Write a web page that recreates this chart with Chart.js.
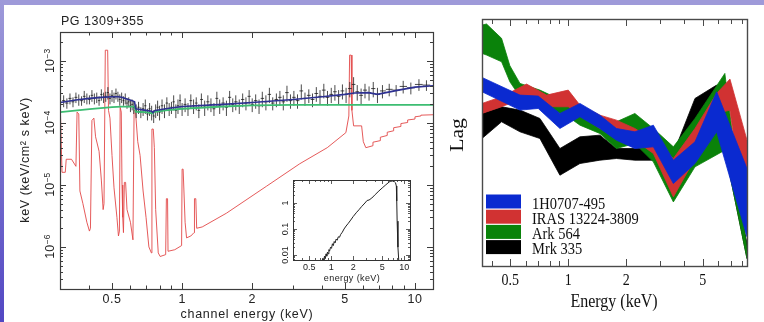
<!DOCTYPE html>
<html>
<head>
<meta charset="utf-8">
<script src="https://cdn.jsdelivr.net/npm/chart.js@4.4.1/dist/chart.umd.min.js"></script>
<style>
html, body { margin: 0; padding: 0; background: #fff; }
#wrap { position: relative; width: 764px; height: 322px; overflow: hidden; background: #fff; }
#topband { position: absolute; left: 0; top: 0; width: 764px; height: 5px; background: #9e9ad9; }
#leftband { position: absolute; left: 0; top: 0; width: 4px; height: 322px; background: linear-gradient(#9e9ad9, #5247c3); }
canvas { position: absolute; left: 0; top: 0; }
</style>
</head>
<body>
<div id="wrap">
  <div id="topband"></div>
  <div id="leftband"></div>
  <canvas id="spec" width="764" height="322"></canvas>
  <canvas id="inset" width="764" height="322"></canvas>
  <canvas id="lags" width="764" height="322"></canvas>
</div>
<script>
// ---------- left panel: PG 1309+355 spectrum ----------
// black data bins (keV), flux and error in units of 1e-4 keV/cm2/s/keV
const specEnergy = [
  0.31,0.32,0.33,0.34,0.35,0.36,0.37,0.38,0.39,0.40,0.41,0.42,0.43,0.44,0.45,0.46,0.47,0.48,0.49,0.50,0.51,0.52,0.53,0.54,0.55,0.56,0.57,0.58,0.59,0.60,0.61,0.62,
  0.635,0.65,0.665,0.68,0.695,0.71,0.725,0.74,0.755,0.77,0.785,0.80,0.82,0.84,0.86,0.88,0.90,0.92,0.94,0.96,0.98,1.00,
  1.03,1.06,1.09,1.12,1.15,1.18,1.21,1.25,1.29,1.33,1.37,1.41,1.45,1.50,1.55,1.60,1.65,1.70,1.76,1.82,1.88,1.94,2.00,2.07,2.14,2.21,2.29,2.37,2.45,2.54,2.63,2.72,2.82,2.92,
  3.02,3.13,3.25,3.37,3.50,3.63,3.77,3.91,4.06,4.21,4.37,4.53,4.70,4.88,5.06,5.25,5.45,5.65,5.87,6.10,6.35,6.62,6.90,
  7.25,7.75,8.3,8.9,9.6,10.4,11.2
];
const specFlux = [
  2.3,2.1,2.5,2.2,2.6,2.4,2.3,2.7,2.5,2.4,2.8,2.5,2.6,2.3,2.9,2.6,2.7,3.1,2.5,2.8,2.6,3.0,2.7,2.4,2.6,2.3,2.5,2.1,2.2,1.9,2.0,1.8,
  1.6,1.8,1.5,1.7,1.9,1.4,1.7,1.5,1.3,1.6,1.8,1.5,1.9,1.6,2.1,1.7,1.8,2.2,1.6,1.9,2.3,1.7,
  2.0,1.7,2.3,1.9,2.1,1.6,2.4,1.8,2.2,2.0,1.7,2.5,1.9,2.1,1.8,2.6,2.0,2.2,1.9,2.4,2.1,2.7,2.0,2.3,1.9,2.5,2.2,2.9,2.1,2.4,2.6,2.2,3.1,2.3,
  2.6,2.3,3.3,2.5,2.8,2.4,3.0,2.7,3.4,2.6,2.9,3.2,2.7,3.3,2.9,3.6,4.2,3.2,2.8,3.4,3.1,3.6,2.9,
  3.3,3.5,3.4,3.9,3.7,4.2,4.1
];
const specErr = [
  0.5,0.4,0.5,0.4,0.5,0.5,0.4,0.6,0.5,0.4,0.6,0.5,0.5,0.4,0.6,0.5,0.5,0.7,0.5,0.6,0.5,0.6,0.5,0.5,0.5,0.4,0.5,0.4,0.4,0.4,0.4,0.4,
  0.4,0.4,0.3,0.4,0.5,0.3,0.4,0.4,0.3,0.4,0.5,0.4,0.5,0.4,0.5,0.4,0.4,0.6,0.4,0.5,0.6,0.4,
  0.5,0.4,0.6,0.5,0.5,0.4,0.6,0.5,0.6,0.5,0.4,0.7,0.5,0.5,0.5,0.7,0.5,0.6,0.5,0.6,0.5,0.7,0.5,0.6,0.5,0.7,0.6,0.8,0.5,0.6,0.7,0.6,0.9,0.6,
  0.7,0.6,0.9,0.6,0.7,0.6,0.8,0.7,0.9,0.7,0.8,0.9,0.7,0.9,0.8,1.0,1.3,0.9,0.8,0.9,0.8,1.0,0.8,
  0.8,0.8,0.7,0.9,0.8,0.9,0.8
];
// blue total model (1e-4 units)
const modelEnergy = [0.30,0.35,0.40,0.45,0.50,0.53,0.55,0.58,0.61,0.625,0.632,0.70,0.74,0.75,0.76,0.85,1.0,1.5,2.0,3.0,4.0,5.0,5.5,6.3,6.9,7.5,8.5,10.0,11.95];
const modelFlux   = [2.15,2.35,2.5,2.6,2.65,2.65,2.6,2.45,2.3,2.2,1.7,1.6,1.55,1.48,1.58,1.7,1.85,2.0,2.15,2.4,2.65,2.9,3.05,3.1,2.9,3.1,3.4,3.8,4.0];
// green power law (1e-4 units)
const contEnergy = [0.30,0.40,0.50,0.55,0.625,0.632,0.70,0.745,0.752,0.85,1.0,1.5,2.0,3.0,11.95];
const contFlux   = [1.5,1.68,1.8,1.84,1.84,1.52,1.5,1.43,1.5,1.6,1.7,1.85,1.93,1.97,1.97];
// red line/absorption component [keV, flux]
const lineModel = [
  [0.300,1.7e-4],[0.305,1.6e-5],[0.315,1.6e-5],[0.318,2.6e-5],[0.335,2.6e-5],[0.350,2.0e-5],[0.354,1.5e-4],[0.360,1.4e-4],
  [0.364,8e-6],[0.375,5e-6],[0.390,2.5e-6],[0.400,1.8e-6],[0.404,2.0e-6],[0.410,1.1e-4],[0.418,1.2e-4],[0.425,6e-5],
  [0.440,3.5e-5],[0.450,1.2e-5],[0.458,4e-6],[0.462,5e-6],[0.468,1.5e-3],[0.479,1.5e-3],[0.483,1.6e-4],[0.490,1.2e-4],
  [0.500,3e-5],[0.510,9e-6],[0.525,3e-6],[0.533,1.5e-6],[0.538,1.8e-6],[0.542,1.8e-4],[0.548,1.5e-4],[0.552,1.0e-5],
  [0.556,3e-6],[0.560,1.7e-6],[0.565,1.1e-5],[0.572,1.1e-5],[0.580,4e-6],[0.600,2.5e-6],[0.615,1.3e-6],[0.622,1.6e-4],
  [0.630,1.6e-4],[0.645,5e-5],[0.660,3e-5],[0.680,8e-6],[0.700,3e-6],[0.720,1.0e-6],[0.738,8e-7],[0.742,8e-5],
  [0.752,8e-5],[0.760,4e-5],[0.770,4e-6],[0.790,8e-7],[0.805,7e-7],[0.850,7.5e-7],[0.856,6e-6],[0.866,6e-6],
  [0.870,8.5e-7],[0.930,9e-7],[0.995,1.05e-6],[1.000,1.8e-5],[1.010,1.8e-5],[1.030,2.5e-6],[1.045,1.4e-6],[1.090,1.5e-6],
  [1.125,1.7e-6],[1.130,6e-6],[1.145,6e-6],[1.155,2e-6],[1.220,2.1e-6],[1.550,3.5e-6],[2.300,9.5e-6],[3.200,2.2e-5],
  [4.200,4e-5],[5.050,7e-5],[5.200,1.3e-4],[5.240,1.25e-3],[5.320,1.25e-3],[5.360,1.6e-4],[5.450,9e-5],[5.900,9e-5],
  [6.000,5e-5],[6.150,4e-5],[6.600,4.3e-5],[6.600,4.9e-5],[7.100,5.2e-5],[7.100,5.9e-5],[7.600,6.3e-5],[7.600,7.1e-5],
  [8.100,7.5e-5],[8.100,8.4e-5],[8.700,8.8e-5],[8.700,9.8e-5],[9.300,1.02e-4],[9.300,1.12e-4],[10.0,1.16e-4],[10.0,1.26e-4],
  [10.6,1.3e-4],[10.6,1.34e-4],[11.95,1.36e-4]
];
const specTicksX = [0.5, 1, 2, 5, 10];
const specTickLabelsX = ['0.5', '1', '2', '5', '10'];
const specTicksY = [1e-6, 1e-5, 1e-4, 1e-3];
const specTickExpY = ['\u22126', '\u22125', '\u22124', '\u22123'];

// inset: counts vs energy
const insetEnergy = [0.74,0.77,0.79,0.81,0.83,0.85,0.87,0.89,0.91,0.93,0.95,0.98,1.01,1.04,1.07,1.10,1.13,1.17,1.21,1.25,1.30,1.35,1.42,1.5,1.6,1.7,1.85,2.0,2.2,2.4,2.6,2.9,3.1,3.3,3.6,4.0,4.5,5.0,5.5,6.0,6.4,6.9,7.3,7.6,7.8,7.9,8.0,8.2,8.5];
const insetCounts = [0.0055,0.0075,0.006,0.009,0.0072,0.011,0.009,0.013,0.011,0.016,0.014,0.02,0.018,0.027,0.023,0.033,0.029,0.041,0.037,0.05,0.048,0.062,0.075,0.1,0.13,0.16,0.22,0.3,0.42,0.55,0.72,1.0,1.25,1.3,1.55,2.1,2.9,3.8,4.8,5.9,6.8,7.0,6.7,6.0,4.5,1.2,0.2,0.02,0.004];
const insetTicksY = [0.01, 0.1, 1];
const insetTickLabelsY = ['0.01', '0.1', '1'];

// ---------- right panel: lag bands ----------
const lagNames = ['1H0707-495', 'IRAS 13224-3809', 'Ark 564', 'Mrk 335'];
const lagColors = ['#0a2ad0', '#d13232', '#0a820a', '#000000'];
const blueE  = [0.356,0.561,0.698,0.905,1.15,1.46,1.78,2.22,2.77,3.52,4.56,5.91,8.5];
const blueHi = [56.5,51.2,50.9,45.7,48.7,45.2,41.2,40.2,42.2,31.7,37.2,52.2,29.2];
const blueLo = [52.2,46.7,47.2,41.2,44.7,41.2,37.7,35.2,35.7,24.7,30.7,40.2,8.7];
const redE  = [0.356,0.450,0.607,0.772,1.0,1.15,1.46,1.78,2.22,2.77,3.52,4.56,5.91,6.93,8.5];
const redHi = [48.7,50.7,54.5,51.2,52.7,48.2,45.2,43.7,41.2,37.7,32.2,41.2,51.7,56.0,37.7];
const redLo = [45.7,47.7,50.7,47.7,47.7,45.2,41.2,40.2,37.7,33.7,20.7,32.2,45.7,46.7,9.7];
const greenE  = [0.356,0.376,0.450,0.497,0.561,0.712,1.0,1.15,1.46,1.78,2.22,2.77,3.52,4.56,6.52,8.5];
const greenHi = [72.2,72.5,68.2,60.0,54.7,52.7,48.7,46.2,44.2,43.2,45.7,41.2,35.7,44.2,57.7,4.7];
const greenLo = [63.7,63.2,61.2,55.2,50.7,48.2,44.7,42.2,39.7,35.2,36.7,31.2,19.2,29.7,34.7,2.2];
const blackE  = [0.356,0.450,0.561,0.712,0.905,1.15,1.46,1.78,2.22,2.77,3.52,4.56,5.91,8.5];
const blackHi = [45.7,47.7,46.7,44.2,35.2,38.7,39.2,35.2,35.2,35.2,33.7,50.2,54.2,6.7];
const blackLo = [38.2,43.2,40.2,38.2,27.2,30.7,31.7,32.2,31.7,31.7,25.7,42.7,46.7,2.2];
const lagTicksX = [0.5, 1, 2, 5];
const lagTickLabelsX = ['0.5', '1', '2', '5'];

// ---------- helpers ----------
function pts(xs, ys, k) {
  return xs.map((x, i) => ({ x: x, y: ys[i] * (k || 1) }));
}
// crosses: vertical error bar + horizontal bin width, separated by gaps
function crosses(E, F, Er, k) {
  const out = [];
  for (let i = 0; i < E.length; i++) {
    const lo = i > 0 ? Math.sqrt(E[i - 1] * E[i]) : E[i] * E[i] / Math.sqrt(E[i] * E[i + 1]);
    const hi = i < E.length - 1 ? Math.sqrt(E[i] * E[i + 1]) : E[i] * E[i] / Math.sqrt(E[i] * E[i - 1]);
    out.push({ x: E[i], y: (F[i] - Er[i]) * k }, { x: E[i], y: (F[i] + Er[i]) * k }, { x: E[i], y: null });
    out.push({ x: lo, y: F[i] * k }, { x: hi, y: F[i] * k }, { x: hi, y: null });
  }
  return out;
}
// minor log tick positions between lo and hi, skipping the majors
function logMinor(lo, hi, majors) {
  const out = [];
  for (let d = Math.floor(Math.log10(lo)); d <= Math.ceil(Math.log10(hi)); d++) {
    for (let m = 1; m <= 9; m++) {
      const v = m * Math.pow(10, d);
      if (v >= lo && v <= hi && !majors.some(t => Math.abs(t - v) / v < 1e-6)) out.push(v);
    }
  }
  return out;
}
function drawTicks(chart, axis, values, len, sides) {
  const a = chart.chartArea, ctx = chart.ctx, s = chart.scales[axis];
  ctx.beginPath();
  values.forEach(v => {
    const p = Math.round(s.getPixelForValue(v)) + 0.5;
    if (axis === 'x') {
      if (sides.includes('bottom')) { ctx.moveTo(p, a.bottom); ctx.lineTo(p, a.bottom - len); }
      if (sides.includes('top')) { ctx.moveTo(p, a.top); ctx.lineTo(p, a.top + len); }
    } else {
      if (sides.includes('left')) { ctx.moveTo(a.left, p); ctx.lineTo(a.left + len, p); }
      if (sides.includes('right')) { ctx.moveTo(a.right, p); ctx.lineTo(a.right - len, p); }
    }
  });
  ctx.stroke();
}
function frame(chart, color, lw) {
  const a = chart.chartArea, ctx = chart.ctx;
  ctx.strokeStyle = color;
  ctx.lineWidth = lw;
  ctx.strokeRect(a.left + 0.5, a.top + 0.5, a.right - a.left, a.bottom - a.top);
}

const base = {
  responsive: false,
  animation: false,
  devicePixelRatio: 1,
  events: [],
  plugins: { legend: { display: false }, tooltip: { enabled: false } }
};

// ---------- left chart ----------
const specDecor = {
  id: 'specDecor',
  afterDraw(chart) {
    const ctx = chart.ctx, a = chart.chartArea, xs = chart.scales.x, ys = chart.scales.y;
    ctx.save();
    frame(chart, '#3c3c3c', 1.2);
    ctx.lineWidth = 1;
    drawTicks(chart, 'x', specTicksX, 6, ['top', 'bottom']);
    drawTicks(chart, 'x', logMinor(xs.min, xs.max, specTicksX), 3.5, ['top', 'bottom']);
    drawTicks(chart, 'y', specTicksY, 6, ['left', 'right']);
    drawTicks(chart, 'y', logMinor(ys.min, ys.max, specTicksY), 3, ['left', 'right']);

    ctx.fillStyle = '#222';
    ctx.font = '12.5px "Liberation Sans", Arial, sans-serif';
    ctx.letterSpacing = '0.5px';
    ctx.textBaseline = 'middle';
    ctx.textAlign = 'left';
    ctx.fillText('PG 1309+355', 61, 22);
    ctx.textAlign = 'center';
    specTicksX.forEach((v, i) => ctx.fillText(specTickLabelsX[i], xs.getPixelForValue(v), 300));
    ctx.letterSpacing = '0.7px';
    ctx.fillText('channel energy (keV)', 247, 315);

    // rotated decade labels 10^n
    ctx.letterSpacing = '0px';
    ctx.textBaseline = 'alphabetic';
    specTicksY.forEach((v, i) => {
      const y = ys.getPixelForValue(v);
      ctx.save();
      ctx.translate(53.5, y);
      ctx.rotate(-Math.PI / 2);
      ctx.font = '12.5px "Liberation Sans", Arial, sans-serif';
      const w1 = ctx.measureText('10').width;
      ctx.font = '8.5px "Liberation Sans", Arial, sans-serif';
      const w2 = ctx.measureText(specTickExpY[i]).width;
      const x0 = -(w1 + w2) / 2;
      ctx.textAlign = 'left';
      ctx.font = '12.5px "Liberation Sans", Arial, sans-serif';
      ctx.fillText('10', x0, 0);
      ctx.font = '8.5px "Liberation Sans", Arial, sans-serif';
      ctx.fillText(specTickExpY[i], x0 + w1 + 0.5, -4);
      ctx.restore();
    });
    ctx.save();
    ctx.translate(28.5, 160);
    ctx.rotate(-Math.PI / 2);
    ctx.font = '12.5px "Liberation Sans", Arial, sans-serif';
    ctx.letterSpacing = '0.6px';
    ctx.textAlign = 'center';
    ctx.fillText('keV (keV/cm\u00b2 s keV)', 0, 0);
    ctx.restore();
    ctx.restore();
  }
};

new Chart(document.getElementById('spec'), {
  type: 'line',
  data: {
    datasets: [
      { data: pts(modelEnergy, modelFlux, 1e-4), borderColor: '#2e3192', borderWidth: 1.6, pointRadius: 0, order: 0 },
      { data: pts(contEnergy, contFlux, 1e-4), borderColor: '#3dbd72', borderWidth: 1.8, pointRadius: 0, order: 1 },
      { data: crosses(specEnergy, specFlux, specErr, 1e-4), borderColor: 'rgba(30,30,30,0.8)', borderWidth: 1, pointRadius: 0, spanGaps: false, order: 2 },
      { data: lineModel.map(p => ({ x: p[0], y: p[1] })), borderColor: 'rgba(226,72,72,0.9)', borderWidth: 1, pointRadius: 0, order: 3 }
    ]
  },
  options: Object.assign({}, base, {
    layout: { padding: { left: 60, top: 32, right: 331, bottom: 33 } },
    elements: { line: { tension: 0 } },
    scales: {
      x: { type: 'logarithmic', min: 0.299, max: 11.95, display: false },
      y: { type: 'logarithmic', min: 2.09e-7, max: 2.95e-3, display: false }
    }
  }),
  plugins: [specDecor]
});

// ---------- inset chart ----------
const insetDecor = {
  id: 'insetDecor',
  beforeDraw(chart) {
    const a = chart.chartArea, ctx = chart.ctx;
    ctx.save();
    ctx.fillStyle = '#fff';
    ctx.fillRect(a.left, a.top, a.right - a.left, a.bottom - a.top);
    ctx.restore();
  },
  afterDraw(chart) {
    const ctx = chart.ctx, xs = chart.scales.x, ys = chart.scales.y;
    ctx.save();
    frame(chart, '#333', 1);
    ctx.lineWidth = 0.8;
    drawTicks(chart, 'x', specTicksX, 4, ['top', 'bottom']);
    drawTicks(chart, 'x', logMinor(xs.min, xs.max, specTicksX), 2, ['top', 'bottom']);
    drawTicks(chart, 'y', insetTicksY, 4, ['left', 'right']);
    drawTicks(chart, 'y', logMinor(ys.min, ys.max, insetTicksY), 2, ['left', 'right']);
    ctx.fillStyle = '#222';
    ctx.font = '9px "Liberation Sans", Arial, sans-serif';
    ctx.textAlign = 'center';
    ctx.textBaseline = 'middle';
    specTicksX.forEach((v, i) => ctx.fillText(specTickLabelsX[i], xs.getPixelForValue(v), 268));
    ctx.letterSpacing = '0.4px';
    ctx.fillText('energy (keV)', 352, 278.5);
    ctx.letterSpacing = '0px';
    ctx.textBaseline = 'alphabetic';
    insetTicksY.forEach((v, i) => {
      ctx.save();
      ctx.translate(288, ys.getPixelForValue(v));
      ctx.rotate(-Math.PI / 2);
      ctx.fillText(insetTickLabelsY[i], 0, 0);
      ctx.restore();
    });
    ctx.restore();
  }
};

new Chart(document.getElementById('inset'), {
  type: 'line',
  data: {
    datasets: [
      { data: pts(insetEnergy, insetCounts), borderColor: '#222', borderWidth: 1, pointRadius: 0, clip: 0 }
    ]
  },
  options: Object.assign({}, base, {
    layout: { padding: { left: 293, top: 180, right: 354, bottom: 62 } },
    scales: {
      x: { type: 'logarithmic', min: 0.30, max: 12, display: false },
      y: { type: 'logarithmic', min: 0.0064, max: 7.67, display: false }
    }
  }),
  plugins: [insetDecor]
});

// ---------- right chart ----------
function stretched(ctx, text, x, y, sy) {
  ctx.save();
  ctx.translate(x, y);
  ctx.scale(1, sy);
  ctx.fillText(text, 0, 0);
  ctx.restore();
}
const lagDecor = {
  id: 'lagDecor',
  afterDraw(chart) {
    const ctx = chart.ctx, xs = chart.scales.x;
    ctx.save();
    frame(chart, '#4a4a4a', 1.4);
    ctx.lineWidth = 1;
    drawTicks(chart, 'x', lagTicksX, 7, ['top', 'bottom']);
    drawTicks(chart, 'x', logMinor(xs.min, xs.max, lagTicksX), 5, ['top', 'bottom']);

    ctx.fillStyle = '#111';
    ctx.textBaseline = 'alphabetic';
    ctx.textAlign = 'center';
    ctx.font = '14px "Liberation Serif", "Times New Roman", serif';
    lagTicksX.forEach((v, i) => stretched(ctx, lagTickLabelsX[i], xs.getPixelForValue(v), 285, 1.2));
    ctx.font = '16px "Liberation Serif", "Times New Roman", serif';
    stretched(ctx, 'Energy (keV)', 614, 306.5, 1.2);
    ctx.save();
    ctx.translate(463, 135);
    ctx.rotate(-Math.PI / 2);
    ctx.scale(1.2, 1);
    ctx.font = '18px "Liberation Serif", "Times New Roman", serif';
    ctx.fillText('Lag', 0, 0);
    ctx.restore();

    // legend
    ctx.textAlign = 'left';
    ctx.font = '14.5px "Liberation Serif", "Times New Roman", serif';
    lagNames.forEach((name, i) => {
      const top = 194.5 + 15.2 * i;
      ctx.fillStyle = lagColors[i];
      ctx.fillRect(486, top, 35, 14);
      ctx.fillStyle = '#111';
      stretched(ctx, name, 532, top + 14, 1.2);
    });
    ctx.restore();
  }
};

const lagSets = [
  [blueE, blueHi, blueLo],
  [redE, redHi, redLo],
  [greenE, greenHi, greenLo],
  [blackE, blackHi, blackLo]
];
const lagDatasets = [];
lagSets.forEach((s, i) => {
  lagDatasets.push({ data: pts(s[0], s[1]), fill: '+1', backgroundColor: lagColors[i], borderColor: lagColors[i], borderWidth: 0.8, pointRadius: 0, clip: 0 });
  lagDatasets.push({ data: pts(s[0], s[2]), fill: false, borderColor: lagColors[i], borderWidth: 0.8, pointRadius: 0, clip: 0 });
});

new Chart(document.getElementById('lags'), {
  type: 'line',
  data: { datasets: lagDatasets },
  options: Object.assign({}, base, {
    layout: { padding: { left: 482, top: 19, right: 17, bottom: 56 } },
    elements: { line: { tension: 0 } },
    scales: {
      x: { type: 'logarithmic', min: 0.356, max: 8.5, display: false },
      y: { type: 'linear', min: 0, max: 74, display: false }
    }
  }),
  plugins: [lagDecor]
});
</script>
</body>
</html>
